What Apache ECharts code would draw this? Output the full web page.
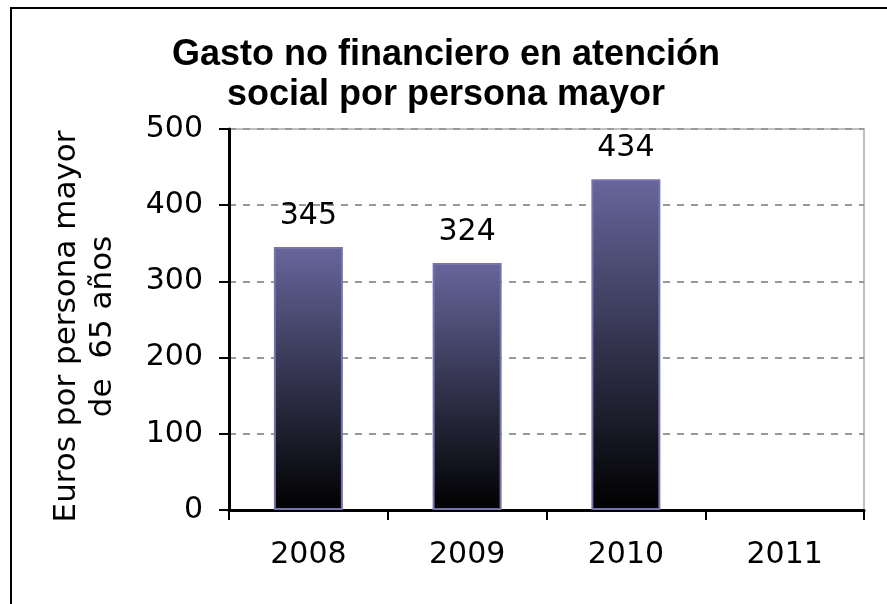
<!DOCTYPE html>
<html>
<head>
<meta charset="utf-8">
<script src="https://cdn.jsdelivr.net/npm/echarts@6/dist/echarts.min.js"></script>
<style>
  html, body { margin: 0; padding: 0; background: #fff; }
  #main { width: 887px; height: 604px; }
</style>
</head>
<body>
<div id="main"></div>
<script>
var years = ['2008', '2009', '2010', '2011'];
var gasto = [345, 324, 434, null];
var yTicks = [0, 100, 200, 300, 400, 500];

var chartDom = document.getElementById('main');
var myChart = echarts.init(chartDom);
var option;

var axisFont = 'DejaVu Sans, Verdana, sans-serif';

option = {
    backgroundColor: '#fff',
    animation: false,
    title: {
        text: 'Gasto no financiero en atención\nsocial por persona mayor',
        left: 441,
        top: 30,
        textAlign: 'center',
        textStyle: {
            fontFamily: 'Liberation Sans, Arial, sans-serif',
            fontWeight: 'bold',
            fontSize: 36,
            lineHeight: 40,
            color: '#000'
        }
    },
    graphic: [
        {
            type: 'rect',
            shape: { x: 11, y: 8, width: 1000, height: 1000 },
            style: { fill: 'none', stroke: '#000', lineWidth: 2 },
            z: 100
        }
    ],
    grid: {
        left: 229,
        top: 129,
        right: 23,
        bottom: 94,
        show: true,
        borderColor: '#c0c0c0',
        borderWidth: 2
    },
    xAxis: {
        type: 'category',
        data: years,
        axisLine: { lineStyle: { color: '#000', width: 3 } },
        axisTick: { show: true, length: 10, lineStyle: { color: '#000', width: 2 } },
        axisLabel: {
            fontFamily: axisFont,
            fontSize: 30,
            color: '#000',
            margin: 30
        }
    },
    yAxis: {
        type: 'value',
        min: yTicks[0],
        max: yTicks[yTicks.length - 1],
        interval: 100,
        name: 'Euros por persona mayor\nde  65 años',
        nameLocation: 'middle',
        nameGap: 108,
        nameTextStyle: {
            fontFamily: axisFont,
            fontSize: 31,
            lineHeight: 36,
            color: '#000',
            padding: [0, 14, 0, 0]
        },
        axisLine: { show: true, lineStyle: { color: '#000', width: 3 } },
        axisTick: { show: true, length: 10, lineStyle: { color: '#000', width: 2 } },
        axisLabel: {
            fontFamily: axisFont,
            fontSize: 30,
            color: '#000',
            margin: 26
        },
        splitLine: {
            show: true,
            lineStyle: { color: '#999', width: 2, type: [7, 7] }
        }
    },
    series: [
        {
            type: 'bar',
            data: gasto,
            barWidth: 69,
            itemStyle: {
                color: new echarts.graphic.LinearGradient(0, 0, 0, 1, [
                    { offset: 0, color: '#66669c' },
                    { offset: 1, color: '#000000' }
                ]),
                borderColor: '#7474ac',
                borderWidth: 2
            },
            label: {
                show: true,
                position: 'top',
                distance: 16,
                fontFamily: axisFont,
                fontSize: 30,
                color: '#000'
            }
        }
    ]
};

myChart.setOption(option);
</script>
</body>
</html>
